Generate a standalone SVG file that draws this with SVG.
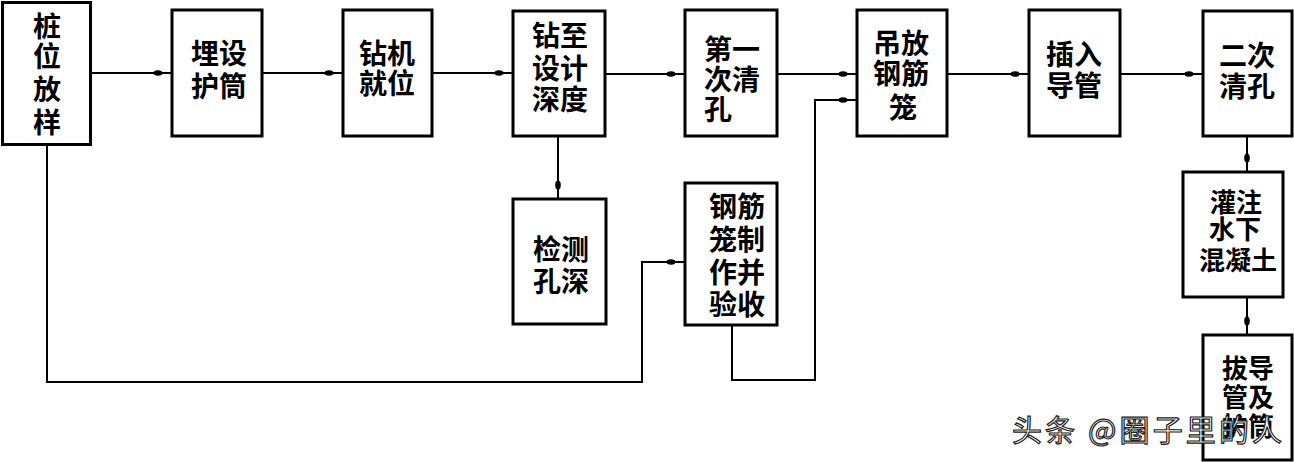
<svg xmlns="http://www.w3.org/2000/svg" width="1294" height="462" viewBox="0 0 1294 462">
<style>
.box{fill:#fff;stroke:#000;stroke-width:3}
.t{font-family:"Noto Sans CJK SC","Noto Sans",sans-serif;font-size:28px;font-weight:700;fill:#000;text-anchor:middle;dominant-baseline:central}
.s{font-size:26px}
.ln{fill:none;stroke:#000;stroke-width:2;marker-end:url(#dot)}
.wm{font-family:"Noto Sans CJK SC","Noto Sans",sans-serif;font-size:30px;fill:#fff;stroke:#222;stroke-width:1.2;dominant-baseline:central}
</style>
<defs>
<marker id="dot" markerUnits="userSpaceOnUse" markerWidth="30" markerHeight="10" viewBox="0 0 30 10" refX="29" refY="5" orient="auto">
<ellipse cx="15" cy="5" rx="4.5" ry="2.8" fill="#000"/>
</marker>
</defs>
<rect width="1294" height="462" fill="#fff"/>
<g id="connectors">
<path class="ln" d="M90,73 H172"/>
<path class="ln" d="M262,73 H343"/>
<path class="ln" d="M432,73 H513"/>
<path class="ln" d="M605,74 H685"/>
<path class="ln" d="M777,74 H857"/>
<path class="ln" d="M947,74 H1029"/>
<path class="ln" d="M1120,74 H1203"/>
<path class="ln" d="M558,136 V199"/>
<path class="ln" d="M47,144 V382 H642 V262 H685"/>
<path class="ln" d="M732,325 V380 H815 V100 H857"/>
<path class="ln" d="M1247,136 V172"/>
<path class="ln" d="M1247,297 V335"/>
</g>
<g id="n1"><rect class="box" x="2.5" y="2.5" width="88" height="142"/>
<text class="t"><tspan x="47" y="25">桩</tspan><tspan x="47" y="55">位</tspan><tspan x="47" y="88">放</tspan><tspan x="47" y="121">样</tspan></text></g>
<g id="n2"><rect class="box" x="172" y="10" width="90" height="126"/>
<text class="t"><tspan x="219" y="52">埋设</tspan><tspan x="219" y="85">护筒</tspan></text></g>
<g id="n3"><rect class="box" x="343" y="10" width="89" height="126"/>
<text class="t"><tspan x="387" y="52">钻机</tspan><tspan x="387" y="82">就位</tspan></text></g>
<g id="n4"><rect class="box" x="513" y="11" width="92" height="125"/>
<text class="t"><tspan x="560" y="34">钻至</tspan><tspan x="560" y="67">设计</tspan><tspan x="560" y="98">深度</tspan></text></g>
<g id="n5"><rect class="box" x="685" y="10" width="92" height="126"/>
<text class="t"><tspan x="732" y="48">第一</tspan><tspan x="732" y="78">次清</tspan><tspan x="718" y="108">孔</tspan></text></g>
<g id="n6"><rect class="box" x="857" y="10" width="90" height="126"/>
<text class="t"><tspan x="901" y="42">吊放</tspan><tspan x="901" y="72">钢筋</tspan><tspan x="903" y="106">笼</tspan></text></g>
<g id="n7"><rect class="box" x="1029" y="10" width="91" height="126"/>
<text class="t"><tspan x="1074" y="53">插入</tspan><tspan x="1074" y="84">导管</tspan></text></g>
<g id="n8"><rect class="box" x="1203" y="11" width="89" height="125"/>
<text class="t"><tspan x="1247" y="54">二次</tspan><tspan x="1247" y="85">清孔</tspan></text></g>
<g id="n9"><rect class="box" x="513" y="199" width="93" height="125"/>
<text class="t"><tspan x="561" y="248">检测</tspan><tspan x="561" y="280">孔深</tspan></text></g>
<g id="n10"><rect class="box" x="685" y="183" width="92" height="142"/>
<text class="t"><tspan x="737" y="205">钢筋</tspan><tspan x="737" y="238">笼制</tspan><tspan x="737" y="271">作并</tspan><tspan x="737" y="303">验收</tspan></text></g>
<g id="n11"><rect class="box" x="1183" y="172" width="100" height="125"/>
<text class="t s"><tspan x="1236" y="200">灌注</tspan><tspan x="1235" y="227">水下</tspan><tspan x="1238" y="258">混凝土</tspan></text></g>
<g id="n12"><rect class="box" x="1203" y="335" width="89" height="125"/>
<text class="t s"><tspan x="1248" y="366">拔导</tspan><tspan x="1248" y="395">管及</tspan><tspan x="1248" y="424">护筒</tspan></text></g>
<text class="wm" x="1012" y="428" textLength="270" lengthAdjust="spacing">头条 @圈子里的人</text>
</svg>
